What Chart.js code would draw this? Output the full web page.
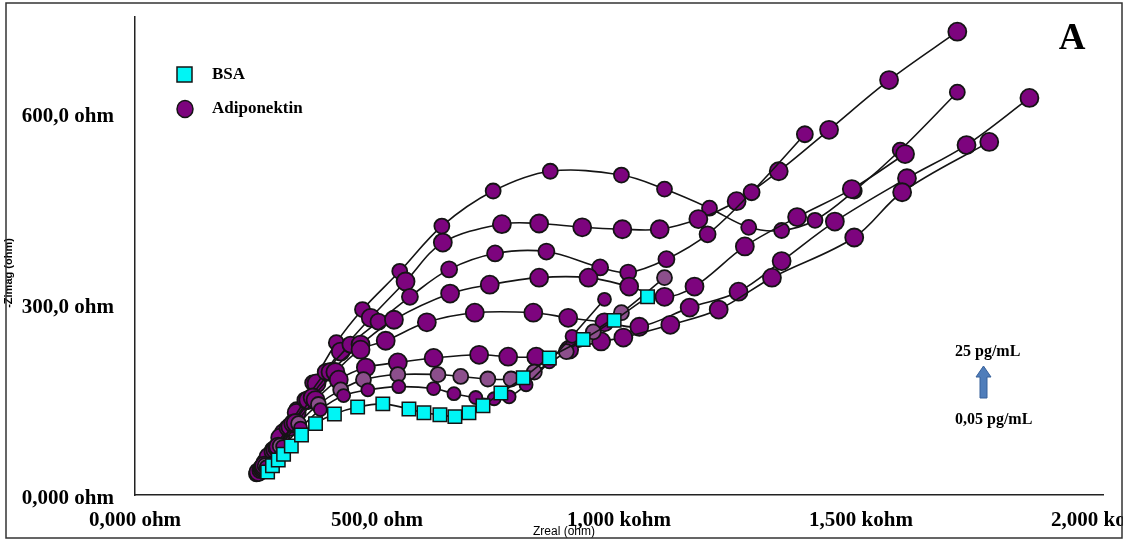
<!DOCTYPE html>
<html>
<head>
<meta charset="utf-8">
<title>Nyquist plot A</title>
<script src="https://cdn.jsdelivr.net/npm/chart.js@4.4.1/dist/chart.umd.min.js"></script>
<style>
  html, body { margin: 0; padding: 0; background: #fff; }
  #wrap { width: 1131px; height: 542px; }
</style>
</head>
<body>
<div id="wrap"><canvas id="nyquist" width="1131" height="542"></canvas></div>
<script>
    "use strict";

    // Axis ticks
    var xTickValues = [0, 500, 1000, 1500, 2000];
    var xTickLabels = ["0,000 ohm", "500,0 ohm", "1,000 kohm", "1,500 kohm", "2,000 kohm"];
    var yTickValues = [0, 300, 600];
    var yTickLabels = ["0,000 ohm", "300,0 ohm", "600,0 ohm"];

    // BSA (control)
    var bsaX = [274, 284, 296, 307, 323, 344, 373, 412, 460, 512, 566, 597, 630, 661, 690, 719, 756, 802, 856, 926, 990, 1059];
    var bsaY = [36, 46, 55, 64, 77, 94, 112, 127, 138, 143, 135, 129, 126, 123, 129, 140, 160, 184, 215, 244, 274, 311];

    // Adiponektin curves (Zreal / -Zimag, ohm)
    var adp1X = [251, 267, 284, 305, 334, 367, 416, 470, 547, 634, 740, 858, 1005, 1094, 1187, 1268, 1336, 1405, 1486, 1581, 1699];
    var adp1Y = [33, 52, 71, 99, 134, 176, 239, 291, 351, 422, 477, 508, 502, 480, 450, 420, 415, 431, 477, 541, 632];
    var adp2X = [255, 276, 300, 334, 375, 425, 487, 559, 636, 758, 835, 924, 1007, 1084, 1164, 1243, 1330, 1434, 1558, 1699];
    var adp2Y = [36, 60, 90, 129, 175, 225, 278, 335, 396, 425, 426, 420, 417, 417, 433, 461, 508, 573, 651, 727];
    var adp3X = [259, 284, 315, 352, 394, 445, 503, 568, 649, 744, 850, 961, 1019, 1098, 1183, 1274, 1384];
    var adp3Y = [39, 68, 105, 149, 193, 236, 272, 311, 354, 379, 382, 357, 349, 370, 409, 475, 566];
    var adp4X = [263, 290, 321, 358, 404, 466, 535, 651, 733, 835, 937, 1021, 1094, 1156, 1260, 1368, 1481, 1591];
    var adp4Y = [42, 71, 107, 149, 193, 236, 275, 316, 330, 341, 341, 327, 311, 327, 390, 436, 480, 535];
    var adp5X = [265, 294, 327, 367, 414, 466, 518, 603, 702, 823, 895, 970, 1042, 1146, 1247, 1336, 1446, 1595, 1718, 1848];
    var adp5Y = [44, 74, 112, 153, 193, 228, 242, 271, 286, 286, 278, 271, 264, 294, 319, 367, 429, 497, 549, 623];
    var adp6X = [267, 296, 332, 373, 421, 477, 543, 617, 711, 771, 829, 897, 963, 1009, 1106, 1206, 1316, 1486, 1585, 1765];
    var adp6Y = [46, 76, 113, 149, 181, 200, 208, 215, 220, 217, 217, 228, 241, 247, 267, 291, 341, 404, 475, 554];
    var adp7X = [269, 300, 338, 379, 425, 472, 543, 626, 673, 729, 777, 825, 891, 947, 1005, 1094];
    var adp7Y = [46, 77, 112, 142, 165, 181, 189, 189, 186, 182, 182, 193, 225, 256, 286, 341];
    var adp8X = [271, 305, 342, 383, 431, 481, 545, 617, 659, 704, 742, 773, 808, 856, 903, 970];
    var adp8Y = [44, 76, 105, 134, 156, 165, 170, 167, 159, 153, 151, 154, 173, 209, 249, 307];

    var PURPLE = "#7d047e";
    var PURPLE_LIGHT = "#8c4f8c";
    var LINE = "#141414";
    var SERIF = "'Liberation Serif', 'Times New Roman', serif";

    function pts(xs, ys) {
        return xs.map(function (x, i) { return {x: x, y: ys[i]}; });
    }

    function adpSet(xs, ys, radius, color, order) {
        return {
            label: "Adiponektin",
            data: pts(xs, ys),
            showLine: true,
            tension: 0.35,
            borderColor: LINE,
            borderWidth: 1.6,
            pointStyle: "circle",
            pointRadius: radius,
            pointBackgroundColor: color,
            pointBorderColor: LINE,
            pointBorderWidth: 1.8,
            order: order
        };
    }

    // Frame, legend and annotations
    var decorations = {
        id: "decorations",
        beforeDraw: function (chart) {
            var ctx = chart.ctx;
            ctx.save();
            ctx.fillStyle = "#fff";
            ctx.fillRect(0, 0, chart.width, chart.height);
            ctx.restore();
        },
        afterDraw: function (chart) {
            var ctx = chart.ctx;
            ctx.save();

            // legend
            ctx.fillStyle = "#00f5f5";
            ctx.strokeStyle = LINE;
            ctx.lineWidth = 1.5;
            ctx.fillRect(177, 67, 15, 15);
            ctx.strokeRect(177, 67, 15, 15);
            ctx.beginPath();
            ctx.ellipse(185, 109, 8, 8.5, 0, 0, Math.PI * 2);
            ctx.fillStyle = PURPLE;
            ctx.fill();
            ctx.stroke();
            ctx.fillStyle = "#000";
            ctx.font = "bold 17px " + SERIF;
            ctx.textAlign = "left";
            ctx.textBaseline = "middle";
            ctx.fillText("BSA", 212, 75);
            ctx.fillText("Adiponektin", 212, 109);

            // panel letter
            ctx.font = "bold 37px " + SERIF;
            ctx.textAlign = "center";
            ctx.fillText("A", 1072, 39);

            // concentration note
            ctx.font = "bold 16px " + SERIF;
            ctx.textAlign = "left";
            ctx.fillText("25 pg/mL", 955, 352);
            ctx.fillText("0,05 pg/mL", 955, 420);

            // arrow
            ctx.beginPath();
            ctx.moveTo(980, 398);
            ctx.lineTo(980, 377);
            ctx.lineTo(976, 377);
            ctx.lineTo(983.5, 366);
            ctx.lineTo(991, 377);
            ctx.lineTo(987, 377);
            ctx.lineTo(987, 398);
            ctx.closePath();
            ctx.fillStyle = "#4f7dba";
            ctx.fill();
            ctx.strokeStyle = "#36609a";
            ctx.lineWidth = 1;
            ctx.stroke();

            // axis titles
            ctx.fillStyle = "#000";
            ctx.font = "12px 'Liberation Sans Narrow', 'Liberation Sans', sans-serif";
            ctx.textAlign = "center";
            ctx.fillText("Zreal (ohm)", 564, 532);
            ctx.translate(9, 273);
            ctx.rotate(-Math.PI / 2);
            ctx.font = "bold 11px 'Liberation Sans Narrow', 'Liberation Sans', sans-serif";
            ctx.fillText("-Zimag (ohm)", 0, 0);
            ctx.setTransform(1, 0, 0, 1, 0, 0);

            // picture frame
            ctx.fillStyle = "#fff";
            ctx.fillRect(1123, 0, 8, chart.height);
            ctx.strokeStyle = "#333";
            ctx.lineWidth = 1.5;
            ctx.strokeRect(6, 3, 1116, 535);
            ctx.restore();
        }
    };

    var ctx1 = document.getElementById("nyquist").getContext("2d");
    var myChart1 = new Chart(ctx1, {
        type: "scatter",
        data: {
            datasets: [
                {
                    label: "BSA",
                    data: pts(bsaX, bsaY),
                    showLine: true,
                    tension: 0.35,
                    borderColor: LINE,
                    borderWidth: 1.6,
                    pointStyle: "rect",
                    pointRadius: 9.5,
                    pointBackgroundColor: "#00f5f5",
                    pointBorderColor: LINE,
                    pointBorderWidth: 1.5,
                    order: 0
                },
                adpSet(adp8X, adp8Y, 6.5, PURPLE, 1),
                adpSet(adp7X, adp7Y, 7.5, PURPLE_LIGHT, 2),
                adpSet(adp6X, adp6Y, 9, PURPLE, 3),
                adpSet(adp5X, adp5Y, 9, PURPLE, 4),
                adpSet(adp4X, adp4Y, 9, PURPLE, 5),
                adpSet(adp3X, adp3Y, 8, PURPLE, 6),
                adpSet(adp2X, adp2Y, 9, PURPLE, 7),
                adpSet(adp1X, adp1Y, 7.5, PURPLE, 8)
            ]
        },
        options: {
            responsive: false,
            animation: false,
            layout: {
                padding: {top: 17, right: 28, left: 0, bottom: 0}
            },
            plugins: {
                legend: {display: false},
                tooltip: {enabled: false}
            },
            scales: {
                x: {
                    type: "linear",
                    min: 0,
                    max: 2000,
                    afterBuildTicks: function (s) {
                        s.ticks = xTickValues.map(function (v) { return {value: v}; });
                    },
                    afterFit: function (s) {
                        s.height = 47;
                        s.paddingLeft = 0;
                        s.paddingRight = 0;
                    },
                    grid: {display: false},
                    border: {display: true, color: "#222", width: 1.5},
                    ticks: {
                        color: "#000",
                        padding: 5,
                        maxRotation: 0,
                        autoSkip: false,
                        font: {family: SERIF, size: 21, weight: "bold"},
                        callback: function (v) { return xTickLabels[xTickValues.indexOf(v)]; }
                    }
                },
                y: {
                    type: "linear",
                    min: 0,
                    max: 750,
                    afterBuildTicks: function (s) {
                        s.ticks = yTickValues.map(function (v) { return {value: v}; });
                    },
                    afterFit: function (s) {
                        s.width = 135;
                        s.paddingTop = 0;
                        s.paddingBottom = 0;
                    },
                    grid: {display: false},
                    border: {display: true, color: "#222", width: 1.5},
                    ticks: {
                        color: "#000",
                        padding: 13,
                        labelOffset: 4,
                        autoSkip: false,
                        font: {family: SERIF, size: 21, weight: "bold"},
                        callback: function (v) { return yTickLabels[yTickValues.indexOf(v)]; }
                    }
                }
            }
        },
        plugins: [decorations]
    });
</script>
</body>
</html>
